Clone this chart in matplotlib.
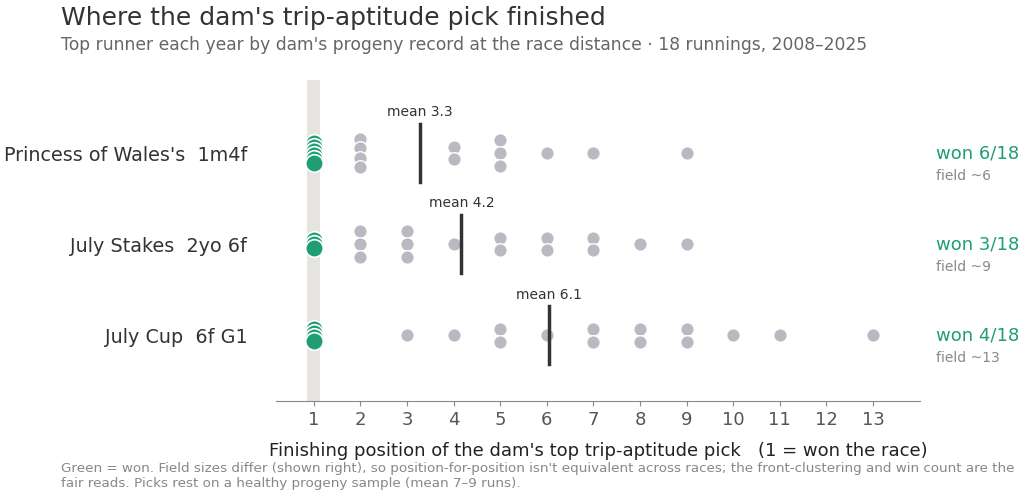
import numpy as np
import matplotlib.pyplot as plt

# datas
races = ["Princess of Wales's  1m4f", "July Stakes  2yo 6f", "July Cup  6f G1"]
fields = [6, 9, 13]
finishes = [
    [1, 1, 1, 1, 1, 1, 2, 2, 2, 2, 4, 4, 5, 5, 5, 6, 7, 9],
    [1, 1, 1, 2, 2, 2, 3, 3, 3, 4, 5, 5, 6, 6, 7, 7, 8, 9],
    [1, 1, 1, 1, 3, 4, 5, 5, 6, 7, 7, 8, 8, 9, 9, 10, 11, 13],
]

green = '#1f9e74'
grey = '#b9b9c1'

fig = plt.figure(figsize=(10.24, 5.01), dpi=100)
ax = fig.add_axes([0.27, 0.2, 0.628, 0.64])

ax.axvspan(0.86, 1.14, color='#e6e4df', zorder=0, lw=0)

for i, vals in enumerate(finishes):
    vals = np.array(vals)
    # spread repeated finishes vertically so they don't sit on top of each other
    ys = np.zeros(len(vals), dtype=float)
    for v in np.unique(vals):
        idx = np.where(vals == v)[0]
        n = len(idx)
        if n > 1:
            step = 0.045 if v == 1 else min(0.14, 0.3 / (n - 1))
            ys[idx] = (np.arange(n) - (n - 1) / 2) * step
    ys = ys + i
    won = vals == 1
    ax.scatter(vals[~won], ys[~won], s=95, color=grey, edgecolor='white', linewidth=1, zorder=3)
    ax.scatter(vals[won], ys[won], s=160, color=green, edgecolor='white', linewidth=1.2, zorder=4)

    m = vals.mean()
    ax.plot([m, m], [i - 0.32, i + 0.32], color='#333333', lw=2.5, zorder=5)
    ax.text(m, i - 0.37, f"mean {m:.1f}", ha='center', va='bottom', fontsize=10, color='#333333')

    ax.text(1.025, i, f"won {won.sum()}/{len(vals)}", transform=ax.get_yaxis_transform(),
            ha='left', va='center', fontsize=13, color=green, clip_on=False)
    ax.text(1.025, i + 0.25, f"field ~{fields[i]}", transform=ax.get_yaxis_transform(),
            ha='left', va='center', fontsize=10, color='#888888', clip_on=False)

ax.set_xlim(0.2, 14.0)
ax.set_ylim(2.72, -0.8)
ax.set_xticks(range(1, 14))
ax.set_yticks(range(3))
ax.set_yticklabels(races, fontsize=13.8, color='#333333')
ax.tick_params(axis='y', length=0, pad=21)
ax.tick_params(axis='x', labelsize=13, labelcolor='#555555', color='#888888')
for s in ['top', 'right', 'left']:
    ax.spines[s].set_visible(False)
ax.spines['bottom'].set_color('#888888')

ax.set_xlabel("Finishing position of the dam's top trip-aptitude pick   (1 = won the race)",
              fontsize=13, color='#222222', labelpad=10)

fig.text(0.06, 0.988, "Where the dam's trip-aptitude pick finished", fontsize=18, color='#333333', va='top')
fig.text(0.06, 0.928, "Top runner each year by dam's progeny record at the race distance \u00b7 18 runnings, 2008\u20132025",
         fontsize=12.3, color='#666666', va='top')
fig.text(0.06, 0.078, "Green = won. Field sizes differ (shown right), so position-for-position isn't equivalent across races; the front-clustering and win count are the\n"
         "fair reads. Picks rest on a healthy progeny sample (mean 7\u20139 runs).",
         fontsize=9.7, color='#888888', va='top', linespacing=1.25)

plt.savefig('out.png', dpi=100)
